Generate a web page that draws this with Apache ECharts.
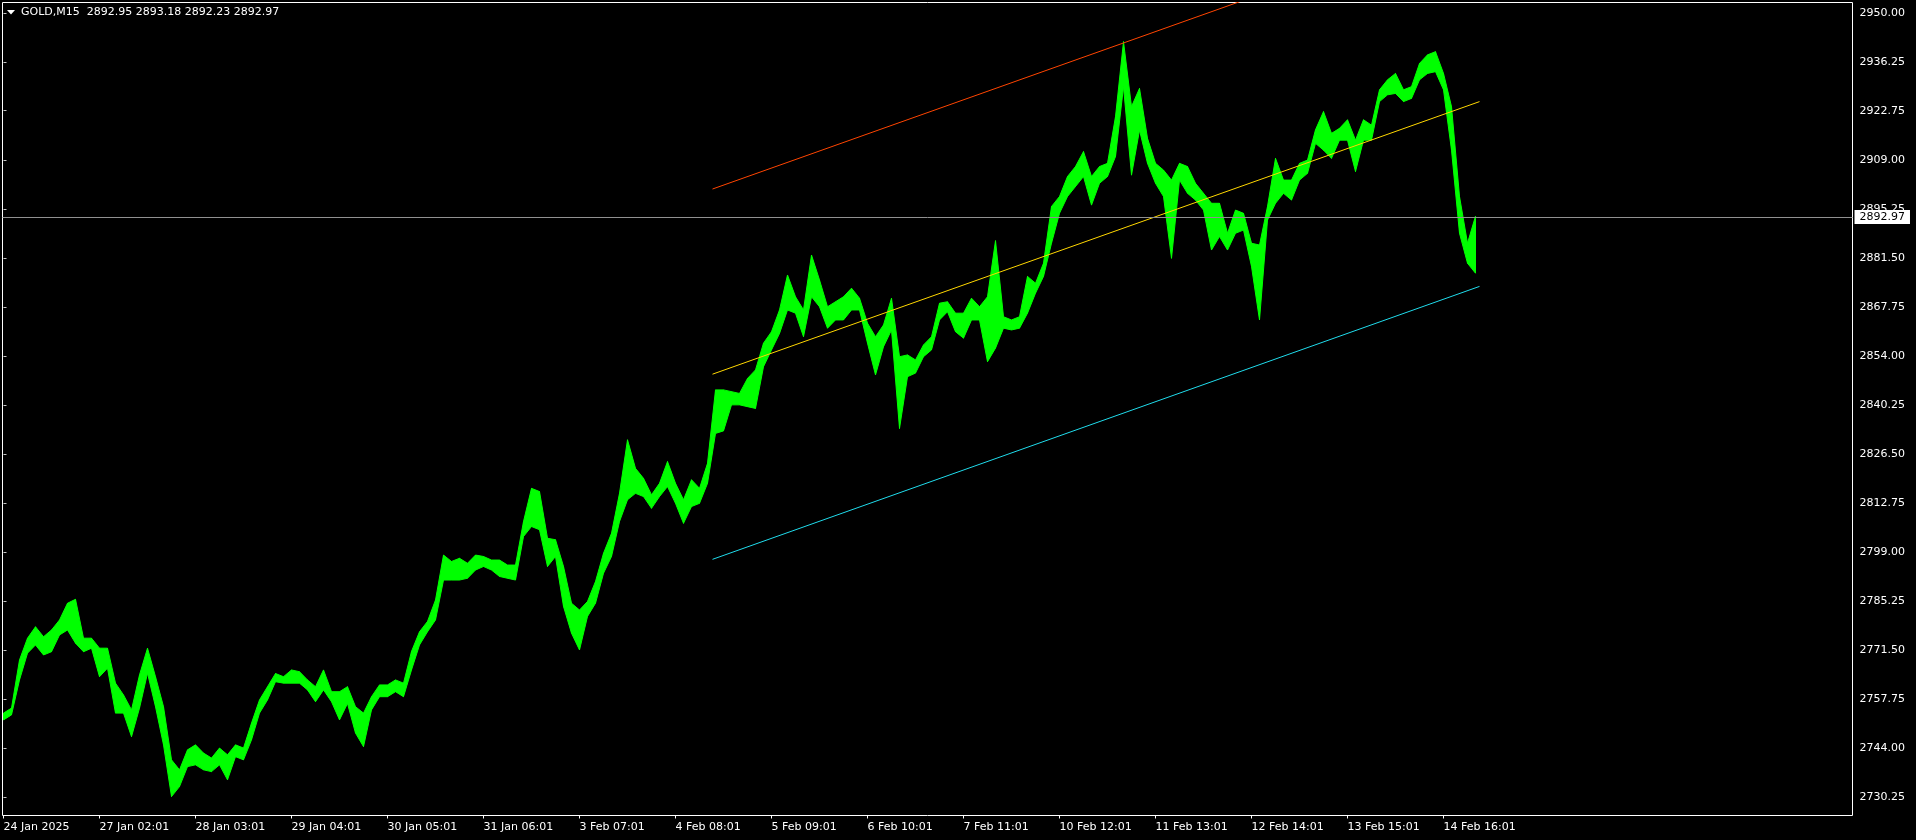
<!DOCTYPE html>
<html>
<head>
<meta charset="utf-8">
<script src="https://cdn.jsdelivr.net/npm/echarts@6/dist/echarts.min.js"></script>
<style>
html,body{margin:0;padding:0;background:#000;}
#chart{width:1916px;height:840px;}
</style>
</head>
<body>
<div id="chart"></div>
<script>
// ---- chart data ----
const symbolName = 'GOLD';
const timeframe = 'M15';
const lastOHLC = [2892.95, 2893.18, 2892.23, 2892.97];
const bidPrice = 2892.97;

// one sample every 8 M15 bars: high / low of the bars around it
const sampleStep = 8;
const priceHigh = [
  // 24 Jan - 27 Jan
  2753.9, 2755.3, 2768.8, 2774.9, 2778.1, 2775.3, 2777.2, 2780.0, 2784.7, 2785.8, 2774.9, 2774.9, 2772.1, 2772.1, 2762.3, 2759.0,
  2754.8, 2764.6, 2772.1, 2764.1, 2755.7, 2740.8, 2738.0, 2743.6, 2745.0, 2742.7, 2741.3, 2744.1, 2742.2, 2745.0, 2744.1,
  // 28 Jan - 30 Jan
  2751.1, 2757.6, 2761.3, 2765.0, 2764.1, 2766.0, 2765.5, 2763.2, 2761.3, 2766.0, 2759.9, 2759.9, 2761.3, 2755.7, 2753.9, 2758.5,
  2761.8, 2761.8, 2763.2, 2762.3, 2771.2, 2776.7, 2779.6, 2785.6, 2798.2, 2796.4, 2797.3, 2795.9, 2798.2, 2797.8, 2796.8, 2796.8,
  // 31 Jan - 4 Feb
  2795.4, 2795.4, 2807.6, 2816.9, 2816.0, 2802.9, 2802.5, 2795.0, 2784.7, 2782.8, 2785.2, 2790.8, 2798.7, 2804.3, 2815.5, 2830.5,
  2822.5, 2819.7, 2815.1, 2818.3, 2824.4, 2818.3, 2813.7, 2819.3, 2816.9, 2823.9, 2844.5, 2844.5, 2844.0, 2843.5, 2847.7,
  // 5 Feb - 7 Feb
  2850.1, 2857.6, 2860.8, 2866.9, 2876.7, 2870.6, 2866.9, 2882.3, 2875.3, 2867.8, 2869.2, 2870.6, 2873.0, 2870.2, 2863.2, 2859.4,
  2862.7, 2870.2, 2853.8, 2854.3, 2852.9, 2857.1, 2859.4, 2868.8, 2869.2, 2866.0, 2866.0, 2870.2, 2867.8, 2870.6, 2886.3,
  // 7 Feb - 12 Feb
  2865.0, 2864.1, 2865.0, 2876.3, 2874.4, 2880.0, 2895.9, 2898.7, 2904.3, 2907.1, 2911.3, 2904.3, 2907.1, 2908.0, 2921.1, 2942.1,
  2923.9, 2929.0, 2915.0, 2908.0, 2906.1, 2903.3, 2908.0, 2907.1, 2902.4, 2899.6, 2896.8, 2896.8, 2888.4, 2894.9, 2894.0,
  // 12 Feb - 14 Feb
  2885.6, 2885.1, 2895.9, 2909.4, 2903.3, 2903.3, 2908.0, 2908.9, 2917.4, 2922.5, 2916.4, 2917.8, 2920.2, 2914.5, 2920.2,
  2918.7, 2928.6, 2931.4, 2933.2, 2928.6, 2929.5, 2936.0, 2938.4, 2939.3, 2933.2, 2923.9, 2898.7, 2885.6, 2893.2
];
const priceLow = [
  2752.0, 2753.4, 2763.2, 2770.7, 2773.0, 2770.2, 2771.1, 2775.8, 2777.2, 2773.5, 2771.1, 2772.1, 2764.1, 2766.5, 2753.9, 2753.9,
  2747.3, 2755.3, 2765.1, 2755.7, 2745.0, 2730.5, 2733.3, 2738.9, 2739.4, 2738.0, 2737.5, 2739.4, 2735.2, 2741.7, 2740.8,
  2746.4, 2753.9, 2757.6, 2762.7, 2762.3, 2762.3, 2762.3, 2760.4, 2757.1, 2760.4, 2757.1, 2752.0, 2756.6, 2748.3, 2744.5, 2754.8,
  2758.5, 2758.5, 2759.9, 2758.5, 2766.0, 2773.0, 2776.7, 2780.0, 2791.2, 2791.2, 2791.2, 2791.7, 2794.0, 2795.0, 2794.0, 2792.2,
  2791.7, 2791.2, 2803.4, 2806.2, 2805.3, 2795.0, 2797.8, 2783.8, 2776.3, 2771.6, 2781.0, 2784.7, 2793.1, 2797.8, 2807.6, 2813.7,
  2815.5, 2814.6, 2811.3, 2814.6, 2817.4, 2812.7, 2807.1, 2811.8, 2812.7, 2818.3, 2832.3, 2833.0, 2840.3, 2840.3, 2839.8,
  2839.3, 2851.0, 2855.7, 2860.3, 2866.9, 2866.0, 2859.4, 2870.6, 2867.8, 2861.8, 2864.1, 2864.1, 2866.9, 2866.9, 2857.6, 2848.7,
  2856.6, 2861.3, 2833.7, 2848.2, 2849.2, 2853.8, 2855.7, 2864.1, 2866.4, 2860.8, 2859.0, 2864.1, 2864.1, 2852.4, 2856.2,
  2861.8, 2861.3, 2861.8, 2866.0, 2871.6, 2876.3, 2885.6, 2894.0, 2898.7, 2901.5, 2904.3, 2896.3, 2902.4, 2904.3, 2909.9, 2929.5,
  2904.7, 2917.3, 2908.0, 2902.4, 2898.7, 2881.4, 2903.3, 2899.6, 2897.7, 2894.9, 2883.7, 2887.5, 2883.7, 2888.4, 2889.3,
  2879.1, 2864.1, 2892.1, 2896.8, 2899.6, 2897.7, 2903.3, 2905.2, 2913.6, 2911.7, 2909.4, 2914.5, 2914.5, 2905.7, 2914.5,
  2914.5, 2925.3, 2927.2, 2927.6, 2925.3, 2926.2, 2931.4, 2933.2, 2933.7, 2928.6, 2911.7, 2888.4, 2880.0, 2877.2
];

// time axis: bar index of each label
const xTickBars = [0, 96, 192, 288, 384, 480, 576, 672, 768, 864, 960, 1056, 1152, 1248, 1344, 1440];
const xTickLabels = ['24 Jan 2025', '27 Jan 02:01', '28 Jan 03:01', '29 Jan 04:01', '30 Jan 05:01', '31 Jan 06:01',
  '3 Feb 07:01', '4 Feb 08:01', '5 Feb 09:01', '6 Feb 10:01', '7 Feb 11:01', '10 Feb 12:01', '11 Feb 13:01',
  '12 Feb 14:01', '13 Feb 15:01', '14 Feb 16:01'];
const yTickValues = [2950.00, 2936.25, 2922.75, 2909.00, 2895.25, 2881.50, 2867.75, 2854.00, 2840.25, 2826.50,
  2812.75, 2799.00, 2785.25, 2771.50, 2757.75, 2744.00, 2730.25];

// regression channel (start bar, end bar)
const channelBars = [709, 1476];
const channelUpper = [2900.8, 2977.2];
const channelMiddle = [2848.9, 2925.3];
const channelLower = [2797.0, 2873.5];

// visible range of the axes
const xRange = [-1, 1849];
const yRange = [2725.20, 2953.08];

// ---- chart ----
const FONT = '"DejaVu Sans", Verdana, sans-serif';
const FS = 11;
const chart = echarts.init(document.getElementById('chart'), null, {renderer: 'canvas'});

const bandData = priceHigh.map((h, i) => [i * sampleStep, priceLow[i], h]);
const channelLine = (vals) => channelBars.map((b, i) => [b, vals[i]]);

const option = {
  backgroundColor: '#000000',
  animation: false,
  title: {
    text: symbolName + ',' + timeframe + '  ' + lastOHLC.map(v => v.toFixed(2)).join(' '),
    left: 21, top: 6, padding: 0,
    textStyle: {color: '#ffffff', fontSize: FS, fontWeight: 'normal', fontFamily: FONT, lineHeight: 12}
  },
  graphic: [{
    type: 'polygon', silent: true,
    shape: {points: [[7, 10], [15, 10], [11, 14.5]]},
    style: {fill: '#ffffff'}
  }],
  grid: {
    left: 2.5, top: 2.5, right: 63.5, bottom: 24.5,
    show: true, borderColor: '#ffffff', borderWidth: 1, backgroundColor: 'transparent'
  },
  xAxis: {
    type: 'value', min: xRange[0], max: xRange[1],
    axisLine: {show: false},
    splitLine: {show: false},
    axisTick: {show: true, length: 3, lineStyle: {color: '#ffffff'}, customValues: xTickBars},
    axisLabel: {
      show: true, customValues: xTickBars, color: '#ffffff', fontSize: FS, fontFamily: FONT,
      lineHeight: 12, margin: 6, align: 'left',
      formatter: (v) => { const k = xTickBars.indexOf(Math.round(v)); return k >= 0 ? xTickLabels[k] : ''; }
    }
  },
  yAxis: {
    type: 'value', position: 'right', min: yRange[0], max: yRange[1],
    axisLine: {show: false},
    splitLine: {show: false},
    axisTick: {show: true, length: 3, lineStyle: {color: '#c8c8c8'}, customValues: yTickValues},
    axisLabel: {
      show: true, customValues: yTickValues, color: '#ffffff', fontSize: FS, fontFamily: FONT,
      lineHeight: 12, margin: 7,
      formatter: (v) => v.toFixed(2)
    }
  },
  series: [
    {
      name: 'bid', type: 'line', data: [], z: 1, clip: false, silent: true,
      markLine: {
        silent: true, symbol: 'none', animation: false,
        lineStyle: {color: '#909090', width: 1, type: 'solid'},
        label: {
          show: true, position: 'end', distance: 2,
          formatter: () => bidPrice.toFixed(2),
          color: '#000000', backgroundColor: '#ffffff', fontSize: FS, fontFamily: FONT,
          lineHeight: 12, padding: [1, 5, 1, 5]
        },
        emphasis: {disabled: true},
        data: [{yAxis: bidPrice}]
      }
    },
    {
      name: 'price', type: 'custom', z: 2, clip: true, silent: true,
      encode: {x: 0, y: [1, 2]},
      data: bandData,
      renderItem: (params, api) => {
        const i = params.dataIndexInside;
        if (i >= params.dataInsideLength - 1) return {type: 'group', children: []};
        const x0 = api.value(0), lo0 = api.value(1), hi0 = api.value(2);
        const x1 = api.value(0, i + 1), lo1 = api.value(1, i + 1), hi1 = api.value(2, i + 1);
        return {
          type: 'polygon',
          shape: {points: [api.coord([x0, hi0]), api.coord([x1, hi1]), api.coord([x1, lo1]), api.coord([x0, lo0])]},
          style: {fill: '#00ff00', stroke: '#00ff00', lineWidth: 1}
        };
      }
    },
    {
      name: 'upper', type: 'line', z: 3, clip: true, silent: true, symbol: 'none',
      data: channelLine(channelUpper), lineStyle: {color: '#ff4500', width: 1}
    },
    {
      name: 'middle', type: 'line', z: 3, clip: true, silent: true, symbol: 'none',
      data: channelLine(channelMiddle), lineStyle: {color: '#ffd700', width: 1}
    },
    {
      name: 'lower', type: 'line', z: 3, clip: true, silent: true, symbol: 'none',
      data: channelLine(channelLower), lineStyle: {color: '#20dcec', width: 1}
    }
  ]
};
chart.setOption(option);
</script>
</body>
</html>
